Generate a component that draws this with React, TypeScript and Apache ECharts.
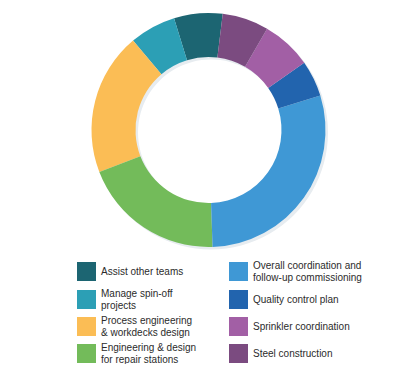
import React, { useEffect, useRef } from "react";
import * as echarts from "echarts";

const categories = [
  "Assist other teams",
  "Manage spin-off projects",
  "Process engineering & workdecks design",
  "Engineering & design for repair stations",
  "Overall coordination and follow-up commissioning",
  "Quality control plan",
  "Sprinkler coordination",
  "Steel construction",
];
const legendLabels = [
  "Assist other teams",
  "Manage spin-off\nprojects",
  "Process engineering\n& workdecks design",
  "Engineering & design\nfor repair stations",
  "Overall coordination and\nfollow-up commissioning",
  "Quality control plan",
  "Sprinkler coordination",
  "Steel construction",
];
const values = [6.7, 6.4, 19.7, 19.7, 29.2, 5, 6.9, 6.4];
const colors = [
  "#1c6572",
  "#2c9fb5",
  "#fbbd55",
  "#73bb5a",
  "#3f98d5",
  "#2264ae",
  "#a25fa5",
  "#7b4b80",
];

export default function App() {
  const ref = useRef<HTMLDivElement>(null);
  useEffect(() => {
    const chart = echarts.init(ref.current!, null, { renderer: "svg" });
    const rowCenters = [271.5, 299.5, 326.5, 353.5];
    const legends = categories.map((name, i) => {
      const col = i < 4 ? 0 : 1;
      const row = i % 4;
      const lines = legendLabels[i].split("\n").length;
      const top = lines === 2 ? rowCenters[row] - 12 : rowCenters[row] - 9.5;
      return {
        data: [name],
        left: col === 0 ? 77 : 229,
        top,
        padding: 0,
        itemWidth: 19,
        itemHeight: 19,
        icon: "rect",
        selectedMode: false,
        formatter: () => legendLabels[i],
        textStyle: {
          fontFamily: "Liberation Sans, Arial, sans-serif",
          fontSize: 10,
          lineHeight: 12,
          color: "#2b2b2b",
        },
      };
    });
    chart.setOption({
      animation: false,
      color: colors,
      legend: legends,
      series: [
        {
          type: "pie",
          silent: true,
          z: 1,
          center: [211, 132.5],
          radius: [73, 117],
          label: { show: false },
          labelLine: { show: false },
          itemStyle: { color: "#e7ecf0" },
          data: [{ value: 1, name: "" }],
          legendHoverLink: false,
        },
        {
          type: "pie",
          z: 2,
          center: [208.5, 130],
          radius: [73, 117],
          startAngle: 83,
          clockwise: false,
          label: { show: false },
          labelLine: { show: false },
          emphasis: { disabled: true },
          itemStyle: { borderWidth: 0 },
          data: categories.map((name, i) => ({ name, value: values[i] })),
        },
      ],
    });
    return () => chart.dispose();
  }, []);
  return <div ref={ref} style={{ width: 412, height: 372, margin: -8 }} />;
}
